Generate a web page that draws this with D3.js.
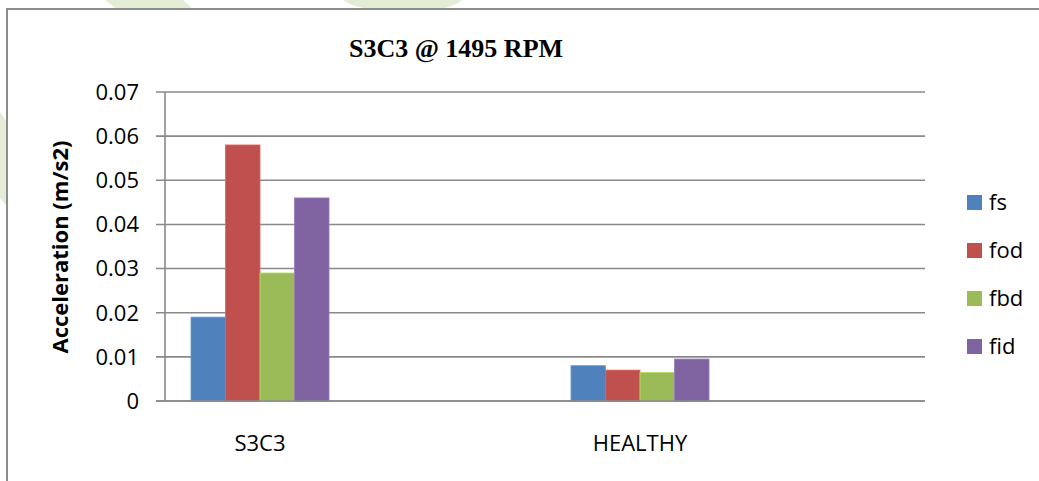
<!DOCTYPE html>
<html>
<head>
<meta charset="utf-8">
<script src="https://cdn.jsdelivr.net/npm/d3@7"></script>
<style>
  html, body { margin: 0; padding: 0; background: #ffffff; }
  svg { display: block; }
</style>
</head>
<body>
<div id="chart"></div>
<script>
// ---- data ----
const chartTitle = "S3C3 @ 1495 RPM";
const yAxisTitle = "Acceleration (m/s2)";
const categories = ["S3C3", "HEALTHY"];
const seriesNames = ["fs", "fod", "fbd", "fid"];
const fsValues  = [0.019, 0.008];
const fodValues = [0.058, 0.007];
const fbdValues = [0.029, 0.0065];
const fidValues = [0.046, 0.0095];
const yTicks = [0, 0.01, 0.02, 0.03, 0.04, 0.05, 0.06, 0.07];
const yTickLabels = ["0", "0.01", "0.02", "0.03", "0.04", "0.05", "0.06", "0.07"];
const seriesColors = ["#4F81BD", "#C0504D", "#9BBB59", "#8064A2"];

const seriesValues = [fsValues, fodValues, fbdValues, fidValues];
const rows = categories.map((c, i) => ({
  category: c,
  values: seriesNames.map((s, j) => ({ series: s, value: seriesValues[j][i], color: seriesColors[j] }))
}));

// ---- layout ----
const W = 1039, H = 481;
const plot = { left: 165, right: 925, top: 92, bottom: 401 };
const catOffset = 95; // category bands are shifted left relative to plot area in the reference
const sansFont = "'Open Sans', 'Liberation Sans', sans-serif";

const svg = d3.select("#chart").append("svg").attr("width", W).attr("height", H);

// watermark fragments (outside chart frame)
const wm = svg.append("g").attr("fill", "#e3edd6");
wm.append("path").attr("d", "M105,0 L183,0 L194,10 L118,10 Z");
wm.append("path").attr("d", "M343,0 L462,0 Q452,10 420,10 L385,10 Q355,9 343,0 Z");
wm.append("path").attr("d", "M0,112 L8,124 L8,208 L0,198 Z");

// chart frame
svg.append("rect")
  .attr("x", 7).attr("y", 9).attr("width", W + 20).attr("height", H + 20)
  .attr("fill", "#ffffff").attr("stroke", "#8c8c8c").attr("stroke-width", 2);

// title
svg.append("text")
  .attr("x", 456).attr("y", 57)
  .attr("text-anchor", "middle")
  .attr("font-family", "'Liberation Serif', 'Times New Roman', serif")
  .attr("font-weight", "bold")
  .attr("font-size", 26)
  .attr("fill", "#000")
  .text(chartTitle);

// scales
const y = d3.scaleLinear().domain([0, 0.07]).range([plot.bottom, plot.top]);
const x0 = d3.scaleBand().domain(categories)
  .range([plot.left - catOffset, plot.right - catOffset])
  .paddingInner(0.6368).paddingOuter(0.3184);
const x1 = d3.scaleBand().domain(seriesNames).range([0, x0.bandwidth()]);

// gridlines + tick marks
const grid = svg.append("g");
grid.selectAll("line.grid").data(yTicks).join("line")
  .attr("class", "grid")
  .attr("x1", plot.left - 9).attr("x2", plot.right)
  .attr("y1", d => y(d)).attr("y2", d => y(d))
  .attr("stroke", "#898989").attr("stroke-width", 1.6);

// y-axis line
svg.append("line")
  .attr("x1", plot.left).attr("x2", plot.left)
  .attr("y1", plot.top).attr("y2", plot.bottom)
  .attr("stroke", "#898989").attr("stroke-width", 1.6);

// tick labels
svg.append("g").selectAll("text").data(yTicks).join("text")
  .attr("x", 139).attr("y", d => y(d)).attr("dy", "0.36em")
  .attr("text-anchor", "end")
  .attr("font-family", sansFont).attr("font-size", 22).attr("fill", "#000")
  .text((d, i) => yTickLabels[i]);

// y title
svg.append("text")
  .attr("transform", "translate(68,247) rotate(-90)")
  .attr("text-anchor", "middle")
  .attr("font-family", sansFont).attr("font-weight", "bold")
  .attr("font-size", 22).attr("fill", "#000")
  .text(yAxisTitle);

// bars
const groups = svg.append("g").selectAll("g").data(rows).join("g")
  .attr("transform", d => `translate(${x0(d.category)},0)`);
groups.selectAll("rect").data(d => d.values).join("rect")
  .attr("x", d => x1(d.series))
  .attr("y", d => y(d.value))
  .attr("width", x1.bandwidth())
  .attr("height", d => y(0) - y(d.value))
  .attr("fill", d => d.color)
  .attr("stroke", d => d3.color(d.color).brighter(0.5))
  .attr("stroke-width", 0.8);

// baseline over bars
svg.append("line")
  .attr("x1", plot.left - 9).attr("x2", plot.right)
  .attr("y1", y(0)).attr("y2", y(0))
  .attr("stroke", "#898989").attr("stroke-width", 1.6);

// category labels
svg.append("g").selectAll("text").data(categories).join("text")
  .attr("x", d => x0(d) + x0.bandwidth() / 2).attr("y", 451)
  .attr("text-anchor", "middle")
  .attr("font-family", sansFont).attr("font-size", 22).attr("fill", "#000")
  .text(d => d);

// legend
const legend = svg.append("g").selectAll("g").data(seriesNames).join("g")
  .attr("transform", (d, i) => `translate(967,${195 + i * 48})`);
legend.append("rect")
  .attr("width", 15).attr("height", 15)
  .attr("fill", (d, i) => seriesColors[i]);
legend.append("text")
  .attr("x", 22).attr("y", 7.5).attr("dy", "0.36em")
  .attr("font-family", sansFont).attr("font-size", 22).attr("fill", "#000")
  .text(d => d);
</script>
</body>
</html>
